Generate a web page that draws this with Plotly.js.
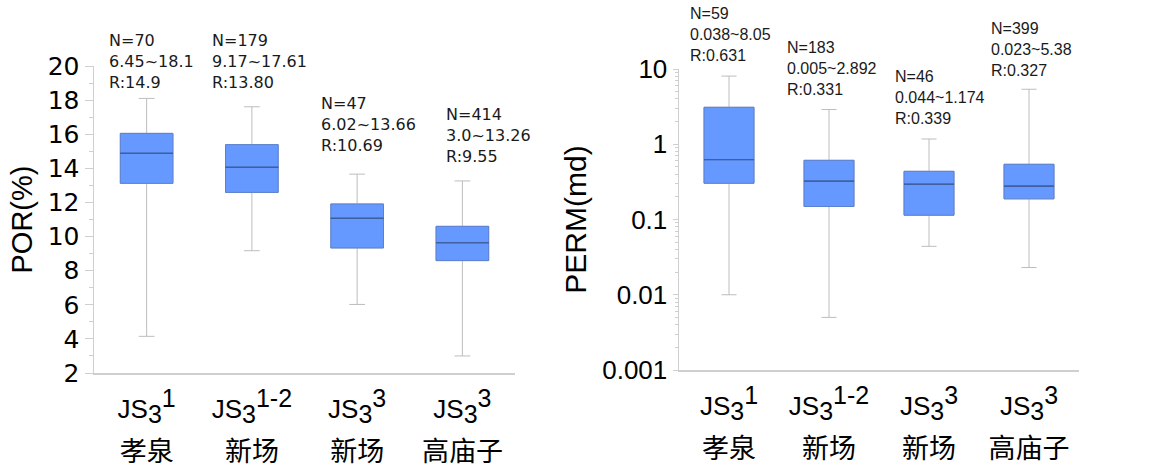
<!DOCTYPE html>
<html>
<head>
<meta charset="utf-8">
<script src="https://cdn.plot.ly/plotly-3.0.1.min.js"></script>
<style>
html,body{margin:0;padding:0;background:#fff;}
#chart{width:1157px;height:469px;}
</style>
</head>
<body>
<div id="chart"></div>
<script>
// ---------- data ----------
const categories = ['JS3-1 孝泉', 'JS3-1-2 新场', 'JS3-3 新场', 'JS3-3 高庙子'];
const formation = ['1', '1-2', '3', '3'];
const place = ['孝泉', '新场', '新场', '高庙子'];

// POR (%)
const porLow = [4.15, 9.17, 6.02, 3.0];
const porQ1 = [13.12, 12.59, 9.33, 8.59];
const porMedian = [14.88, 14.06, 11.07, 9.64];
const porQ3 = [16.05, 15.39, 11.91, 10.6];
const porHigh = [18.1, 17.61, 13.66, 13.26];
const porN = [70, 179, 47, 414];
const porRange = ['6.45~18.1', '9.17~17.61', '6.02~13.66', '3.0~13.26'];
const porR = ['14.9', '13.80', '10.69', '9.55'];

// PERM (md)
const permLow = [0.01, 0.005, 0.044, 0.023];
const permQ1 = [0.303, 0.149, 0.114, 0.188];
const permMedian = [0.625, 0.323, 0.294, 0.277];
const permQ3 = [3.1, 0.612, 0.437, 0.542];
const permHigh = [8.05, 2.892, 1.174, 5.38];
const permN = [59, 183, 46, 399];
const permRange = ['0.038~8.05', '0.005~2.892', '0.044~1.174', '0.023~5.38'];
const permR = ['0.631', '0.331', '0.339', '0.327'];

const yTicksPor = [2, 4, 6, 8, 10, 12, 14, 16, 18, 20];
const yTicksPerm = [0.001, 0.01, 0.1, 1, 10];
const yTickTextPerm = ['0.001', '0.01', '0.1', '1', '10'];

// ---------- styling ----------
const W = 1157, H = 469;
const FILL = '#6699ff';
const OUTLINE = '#5b7fcf';
const MEDIAN = '#3f5f9f';
const WHISKER = '#bdbdbd';
const AXIS = '#cfcfcf';

function tickText(f, p) {
  return '<span style="font-size:26px">JS<sub><span style="font-size:25px">3</span></sub>' +
         '<sup><span style="font-size:25px">' + f + '</span></sup></span><br>' +
         '<span style="font-size:27px">' + p + '</span>';
}
const xTickText = categories.map((c, i) => tickText(formation[i], place[i]));

function boxTraces(xa, ya, low, q1, med, q3, high) {
  const common = {type: 'box', x: categories, xaxis: xa, yaxis: ya, width: 0.5,
                  boxpoints: false, hoverinfo: 'skip', showlegend: false};
  return [
    Object.assign({}, common, {q1: q1, median: med, q3: q3, lowerfence: low, upperfence: high,
      line: {color: WHISKER, width: 1}, fillcolor: 'rgba(0,0,0,0)', whiskerwidth: 0.3}),
    Object.assign({}, common, {q1: q1, median: med, q3: q3, lowerfence: q1, upperfence: q3,
      line: {color: OUTLINE, width: 1}, fillcolor: FILL, whiskerwidth: 0}),
    Object.assign({}, common, {q1: med, median: med, q3: med, lowerfence: med, upperfence: med,
      line: {color: MEDIAN, width: 1}, fillcolor: 'rgba(0,0,0,0)', whiskerwidth: 0})
  ];
}

const data = [].concat(
  boxTraces('x', 'y', porLow, porQ1, porMedian, porQ3, porHigh),
  boxTraces('x2', 'y2', permLow, permQ1, permMedian, permQ3, permHigh)
);

// annotation anchor positions in page pixels (left edge, top edge)
const porAnnPos = [[107, 29], [210, 29], [319, 92], [444, 103]];
const permAnnPos = [[688, 3], [785, 37], [893, 66], [989, 18]];

const annotations = [];
porN.forEach((n, i) => {
  annotations.push({
    xref: 'paper', yref: 'paper', x: porAnnPos[i][0] / W, y: 1 - porAnnPos[i][1] / H,
    xanchor: 'left', yanchor: 'top', align: 'left', showarrow: false,
    text: 'N=' + n + '<br>' + porRange[i] + '<br>R:' + porR[i],
    font: {family: 'DejaVu Sans', size: 16, color: '#1a1a1a'}
  });
});
permN.forEach((n, i) => {
  annotations.push({
    xref: 'paper', yref: 'paper', x: permAnnPos[i][0] / W, y: 1 - permAnnPos[i][1] / H,
    xanchor: 'left', yanchor: 'top', align: 'left', showarrow: false,
    text: 'N=' + n + '<br>' + permRange[i] + '<br>R:' + permR[i],
    font: {family: 'Liberation Sans, Arial', size: 16, color: '#1a1a1a'}
  });
});

const xCommon = {
  type: 'category', range: [-0.5, 3.5], tickvals: categories, ticktext: xTickText,
  tickangle: 0, ticks: '', showline: true, linecolor: AXIS, linewidth: 2,
  showgrid: false, zeroline: false, fixedrange: true, ticklabelstandoff: 3,
  tickfont: {family: 'Liberation Sans, Arial, Noto Sans CJK SC', size: 33, color: '#000'}
};

const layout = {
  width: W, height: H,
  margin: {l: 0, r: 0, t: 0, b: 0},
  paper_bgcolor: '#fff', plot_bgcolor: '#fff',
  boxmode: 'overlay', hovermode: false, showlegend: false,
  font: {family: 'Liberation Sans, Arial, Noto Sans CJK SC', color: '#000'},
  xaxis: Object.assign({}, xCommon, {domain: [94 / W, 515 / W], anchor: 'y'}),
  xaxis2: Object.assign({}, xCommon, {domain: [679 / W, 1079 / W], anchor: 'y2'}),
  yaxis: {
    domain: [1 - 373 / H, 1 - 66 / H], anchor: 'x', range: [2, 20],
    tickvals: yTicksPor, ticks: 'outside', ticklen: 8, tickcolor: AXIS, tickwidth: 1,
    minor: {dtick: 1, ticks: 'outside', ticklen: 4, tickcolor: AXIS, showgrid: false},
    showline: true, linecolor: AXIS, linewidth: 1.5, showgrid: false, zeroline: false,
    tickfont: {family: 'DejaVu Sans', size: 25, color: '#000'},
    title: {text: 'POR(%)', font: {family: 'Liberation Sans, Arial', size: 29, color: '#000'}, standoff: 6},
    fixedrange: true
  },
  yaxis2: {
    type: 'log', domain: [1 - 370 / H, 1 - 69 / H], anchor: 'x2', range: [-3, 1],
    tickvals: yTicksPerm, ticktext: yTickTextPerm,
    ticks: 'outside', ticklen: 5, tickcolor: AXIS, tickwidth: 1,
    minor: {dtick: 'D1', ticks: 'outside', ticklen: 3, tickcolor: AXIS, showgrid: false},
    showline: true, linecolor: AXIS, linewidth: 1.5, showgrid: false, zeroline: false,
    tickfont: {family: 'Liberation Sans, Arial', size: 26, color: '#000'},
    title: {text: 'PERM(md)', font: {family: 'Liberation Sans, Arial', size: 30, color: '#000'}, standoff: 6},
    fixedrange: true
  },
  annotations: annotations
};

Plotly.newPlot('chart', data, layout, {staticPlot: true, displayModeBar: false});
</script>
</body>
</html>
